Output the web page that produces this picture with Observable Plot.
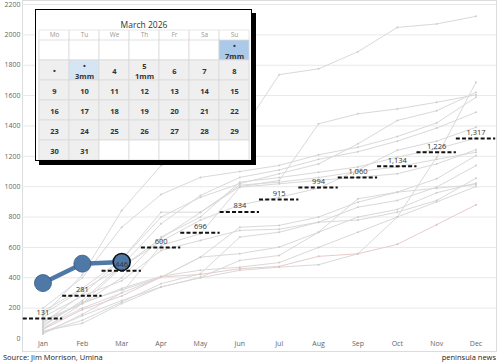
<!DOCTYPE html>
<html><head><meta charset="utf-8">
<script src="https://cdn.jsdelivr.net/npm/d3@7"></script>
<script src="https://cdn.jsdelivr.net/npm/@observablehq/plot@0.6"></script>
<style>
body{margin:0;background:#fff;font-family:"Open Sans",sans-serif;}
#wrap{position:relative;width:500px;height:362px;overflow:hidden;}
#main{position:absolute;left:0;top:0;}
#cal{position:absolute;left:35px;top:9px;width:215px;height:150px;border:1.5px solid #000;box-shadow:4px 4px 0 #000;background:#fff;}
#foot{position:absolute;left:0;top:352px;width:500px;height:10px;font-size:7.5px;line-height:10px;color:#222;}
#foot .l{position:absolute;left:3px;top:0;}
#foot .r{position:absolute;right:4px;top:0;}
</style></head><body>
<div id="wrap">
  <div id="main"></div>
  <div id="cal"></div>
  <div id="foot"><span class="l">Source: Jim Morrison, Umina</span><span class="r">peninsula news</span></div>
</div>
<script>
// ---------- data ----------
const months = ["Jan","Feb","Mar","Apr","May","Jun","Jul","Aug","Sep","Oct","Nov","Dec"];
const yTicks = [0,200,400,600,800,1000,1200,1400,1600,1800,2000,2200];
const avgRain = [131,281,446,600,696,834,915,994,1060,1134,1226,1317];
const currentYear = [365,493,504];
// past years, cumulative rainfall (mm), Jan..Dec
const year01 = [150,420,843,1140,1230,1345,1738,1776,1889,2049,2072,2122];
const year02 = [60,230,470,660,830,1000,1041,1414,1480,1512,1556,1605];
const year03 = [40,150,250,340,400,449,470,486,558,800,1194,1688];
const year04 = [100,290,520,800,930,1020,1085,1150,1282,1436,1500,1622];
const year05 = [200,400,733,949,1061,1100,1140,1210,1260,1330,1420,1589];
const year06 = [80,250,480,756,942,1061,1110,1180,1230,1300,1386,1490];
const year07 = [120,230,400,668,800,1030,1060,1095,1130,1194,1249,1320];
const year08 = [30,160,300,613,690,997,1019,1042,1062,1085,1150,1243];
const year09 = [180,330,520,832,832,1010,1030,1060,1100,1130,1180,1227];
const year10 = [90,240,320,403,536,733,745,800,898,964,1052,1205];
const year11 = [140,280,380,580,646,712,720,766,865,909,997,1139];
const year12 = [40,120,240,361,427,668,700,766,780,832,909,1056];
const year13 = [70,200,300,403,536,559,602,700,800,850,960,1023];
const year14 = [50,100,230,339,403,514,547,700,920,964,990,1014];
const year15 = [110,230,330,410,450,470,500,600,700,800,900,1001];
const year16 = [160,320,470,640,780,880,930,990,1110,1240,1300,1391];
const yearRed = [60,190,280,405,422,460,475,541,558,620,750,881];

// calendar
const calTitle = "March 2026";
const weekdays = ["Mo","Tu","We","Th","Fr","Sa","Su"];
const daysInMonth = 31;
const firstWeekday = 6; // 1 March 2026 is a Sunday
const rainDays = [1,3,5];
const rainMm = [7,3,1];
const markedDays = [1,2,3];

// ---------- tables ----------
const greyYears = [year01,year02,year03,year04,year05,year06,year07,year08,year09,year10,year11,year12,year13,year14,year15,year16];
const histRows = greyYears.flatMap((s,k)=>s.map((v,m)=>({s:k,m,v})));
const redRows = yearRed.map((v,m)=>({m,v}));
const avgRows = avgRain.map((v,m)=>({m,v}));
const curRows = currentYear.map((v,m)=>({m,v}));
const monthIdx = months.map((_,i)=>i);
const fmt = d3.format(",");

const chart = Plot.plot({
  width: 500, height: 352,
  marginLeft: 22, marginRight: 4, marginTop: 4, marginBottom: 14,
  style: {fontFamily: "'Open Sans', sans-serif", fontSize: "7px", color: "#666", background: "transparent"},
  x: {type: "linear", domain: [-0.52, 11.52], ticks: monthIdx, tickFormat: i => months[i], tickSize: 0, tickPadding: 3, label: null},
  y: {domain: [0, 2200], ticks: yTicks, tickFormat: d => String(d), tickSize: 0, tickPadding: 2, label: null},
  marks: [
    Plot.frame({stroke: "#dcdcdc", insetTop: -4, insetBottom: -13}),
    Plot.ruleY(yTicks.filter(v => v > 0), {stroke: "#e8e8e8"}),
    Plot.line(histRows, {x: "m", y: "v", z: "s", stroke: "#d9d9d9", strokeWidth: 1}),
    Plot.dot(histRows, {x: "m", y: "v", r: 1, fill: "#cdcdcd"}),
    Plot.line(redRows, {x: "m", y: "v", stroke: "#e8cccc", strokeWidth: 1}),
    Plot.dot(redRows, {x: "m", y: "v", r: 1, fill: "#dfc0c0"}),
    Plot.ruleY(avgRows, {y: "v", x1: d => d.m - 0.5, x2: d => d.m + 0.5, stroke: "#111", strokeWidth: 2, strokeDasharray: "4,2.2"}),
    Plot.line(curRows, {x: "m", y: "v", stroke: "#4e79a7", strokeWidth: 4.5}),
    Plot.dot(curRows, {x: "m", y: "v", r: 8.5, fill: "#4e79a7", stroke: "#35587d", strokeWidth: 0.8, filter: d => d.m < currentYear.length - 1}),
    Plot.dot(curRows, {x: "m", y: "v", r: 8.5, fill: "#4e79a7", stroke: "#111", strokeWidth: 1.6, filter: d => d.m === currentYear.length - 1}),
    Plot.text(avgRows, {x: "m", y: "v", text: d => fmt(d.v), dy: -6, fill: "#333", fontSize: 7.5})
  ]
});
document.getElementById("main").appendChild(chart);

// ---------- calendar ----------
const slots = d3.range(42).map(i => {
  const day = i - firstWeekday + 1;
  return {wd: weekdays[i % 7], row: Math.floor(i / 7), day: (day >= 1 && day <= daysInMonth) ? day : null};
}).filter(d => d.row < 6);
const dayCells = slots.filter(d => d.day !== null).map(d => {
  const k = rainDays.indexOf(d.day);
  const mm = k >= 0 ? rainMm[k] : 0;
  const head = markedDays.includes(d.day) ? "•" : String(d.day);
  return {...d, mm, label: mm ? head + "\n" + mm + "mm" : head};
});
const cellFill = d => d.day === null ? "#ffffff" : d.mm >= 5 ? "#abc9e8" : (d.mm >= 3 && markedDays.includes(d.day)) ? "#d6e5f3" : "#efefef";
const slotRows = slots.map(d => {
  const c = dayCells.find(e => e.day === d.day && d.day !== null);
  return {...d, mm: c ? c.mm : 0};
});

const cal = Plot.plot({
  width: 215, height: 150,
  marginLeft: 0, marginRight: 0, marginBottom: 0, marginTop: 30,
  style: {fontFamily: "'Open Sans', sans-serif", background: "transparent"},
  x: {type: "band", domain: weekdays, padding: 0, axis: null},
  y: {type: "band", domain: d3.range(6), padding: 0, axis: null},
  color: {type: "identity"},
  marks: [
    Plot.cell(weekdays, {x: d => d, fill: "none", stroke: "#e2e2e2", strokeWidth: 0.8, insetTop: -10}),
    Plot.cell(slotRows, {x: "wd", y: "row", fill: cellFill, stroke: "#dadada", strokeWidth: 0.8}),
    Plot.text(dayCells, {x: "wd", y: "row", text: "label", fontSize: 7.5, fontWeight: "bold", fill: "#333", lineHeight: 1.35}),
    Plot.text(weekdays, {x: d => d, frameAnchor: "top", lineAnchor: "middle", dy: -6, fill: "#999", fontSize: 6.5}),
    Plot.text([calTitle], {frameAnchor: "top", lineAnchor: "middle", dy: -15, fill: "#333", fontSize: 8.5})
  ]
});
document.getElementById("cal").appendChild(cal);
</script>
</body></html>
